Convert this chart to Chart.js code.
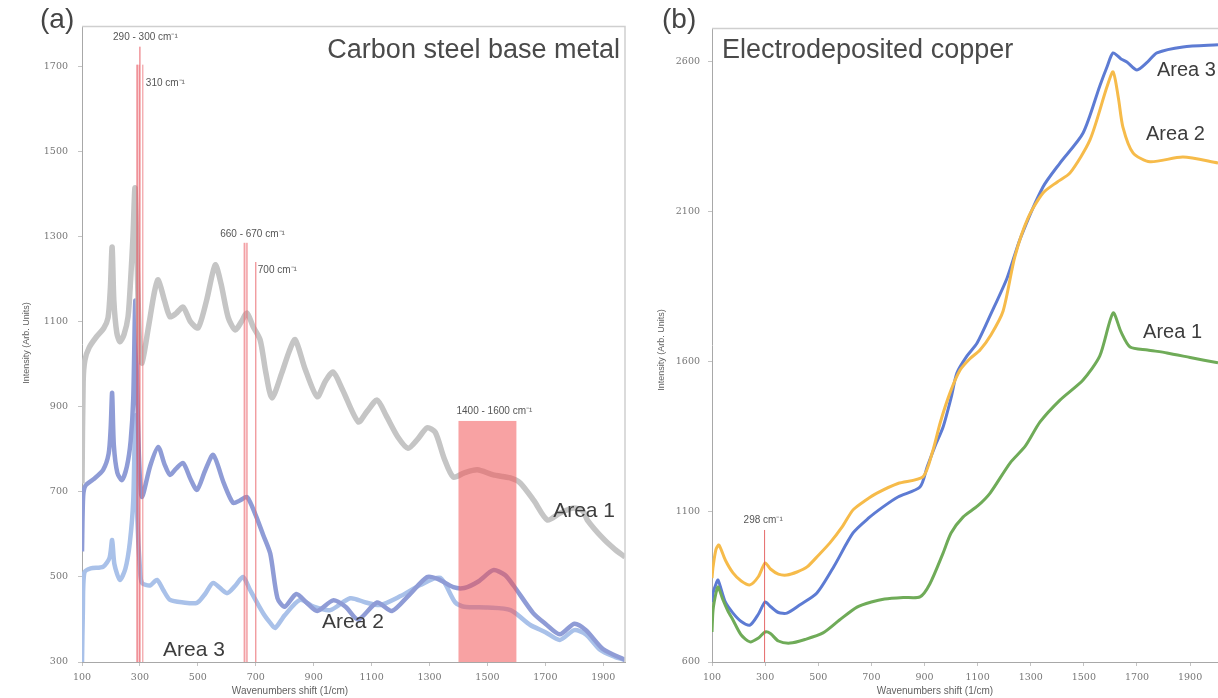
<!DOCTYPE html>
<html>
<head>
<meta charset="utf-8">
<script src="https://cdn.jsdelivr.net/npm/chart.js@4.4.1/dist/chart.umd.min.js"></script>
<style>
  html, body { margin: 0; padding: 0; background: #fff; overflow: hidden; width: 1218px; height: 698px; }
  #wrapA { position: absolute; left: 0; top: 0; width: 640px; height: 698px; }
  #wrapB { position: absolute; left: 640px; top: 0; width: 578px; height: 698px; }
</style>
</head>
<body>
<div id="wrapA"><canvas id="chartA" width="640" height="698"></canvas></div>
<div id="wrapB"><canvas id="chartB" width="578" height="698"></canvas></div>
<script>
/* ---------- (a) carbon steel base metal ---------- */
const a1Wave = [100,104,110,125,150,175,190,198,204,210,220,231,245,259,268,276,283,290,298,307,330,350,363,385,404,425,449,475,501,530,560,580,605,629,650,670,690,715,735,756,790,815,836,870,912,940,967,1000,1054,1085,1119,1150,1190,1226,1260,1292,1320,1350,1382,1420,1465,1520,1579,1613,1660,1707,1750,1797,1830,1845,1900,1940,1975];
const a1Int  = [720,960,1010,1040,1065,1085,1110,1180,1276,1150,1075,1053,1070,1112,1200,1300,1415,1250,1060,1003,1090,1170,1199,1150,1112,1120,1135,1100,1086,1150,1234,1190,1110,1081,1100,1121,1090,1058,980,921,980,1030,1058,990,924,960,982,940,865,890,916,880,830,803,825,851,840,780,735,745,752,740,733,721,680,634,650,662,655,634,590,565,547];

const a2Wave = [100,104,112,140,173,192,199,204,210,222,238,255,268,277,284,290,298,307,335,363,385,404,425,449,475,497,525,553,590,622,645,670,700,725,750,775,800,840,875,912,967,1010,1054,1119,1170,1226,1292,1330,1382,1420,1470,1520,1560,1590,1658,1700,1750,1800,1840,1900,1975];
const a2Int  = [560,690,715,730,752,790,850,933,810,745,728,760,820,920,1150,950,760,688,760,806,765,740,755,768,730,705,750,787,720,674,680,688,645,600,555,450,430,460,440,420,445,430,400,440,420,455,500,495,476,474,490,516,505,480,415,390,365,390,375,330,305];

const a3Wave = [100,103,108,130,173,195,204,212,231,250,265,277,284,291,300,307,335,359,380,404,450,497,525,553,600,630,656,680,705,730,750,767,800,853,900,957,1026,1080,1130,1200,1268,1337,1389,1420,1500,1580,1648,1700,1750,1800,1840,1890,1940,1975];
const a3Int  = [300,420,510,520,524,545,587,530,493,520,580,680,880,640,520,486,480,493,470,446,440,439,460,486,462,480,500,470,439,410,392,380,410,446,430,422,450,440,434,455,481,498,440,430,428,422,387,370,352,375,365,328,312,305];

const xTicksA = [100,300,500,700,900,1100,1300,1500,1700,1900];
const yTicksA = [300,500,700,900,1100,1300,1500,1700];

// marked bands (cm-1) and how high their marker reaches (intensity)
const bandA1 = [290, 300], bandA1Top = 1705;
const lineA310 = 310;
const bandA2 = [660, 670], bandA2Top = 1286;
const lineA700 = 700, lineA700Top = 1241;
const boxA = [1400, 1600], boxATop = 867;

/* ---------- (b) electrodeposited copper ---------- */
const b1Wave = [100,104,115,123,140,160,179,210,243,275,300,320,350,394,450,518,580,646,700,750,820,883,920,970,1000,1045,1100,1147,1222,1280,1335,1410,1497,1560,1610,1640,1674,1740,1813,1900,2005];
const b1Int  = [700,773,830,850,810,770,740,690,667,680,700,695,670,663,675,697,740,783,800,810,815,817,860,963,1030,1083,1120,1163,1263,1320,1400,1473,1540,1620,1763,1700,1650,1640,1630,1615,1597];

const b2Wave = [100,104,115,126,150,179,210,243,275,300,320,350,382,420,458,500,544,590,631,680,721,800,894,930,960,996,1034,1070,1109,1150,1196,1240,1290,1346,1400,1448,1523,1587,1610,1630,1647,1685,1749,1873,2005];
const b2Int  = [880,917,975,990,940,897,870,857,885,930,910,893,890,900,917,955,997,1050,1107,1140,1163,1195,1217,1300,1400,1497,1573,1610,1640,1690,1770,1950,2080,2163,2200,2230,2340,2517,2567,2480,2383,2297,2267,2283,2263];

const b3Wave = [100,104,115,123,150,179,210,243,275,300,320,350,382,430,495,560,631,690,744,800,883,910,940,970,1000,1022,1060,1098,1150,1211,1260,1346,1410,1497,1560,1587,1610,1640,1662,1700,1740,1775,1873,2005];
const b3Int  = [800,830,860,873,800,763,735,723,760,800,785,765,763,790,830,920,1030,1080,1117,1150,1183,1250,1320,1383,1480,1563,1620,1663,1760,1880,2010,2183,2263,2363,2520,2583,2630,2610,2600,2573,2600,2630,2650,2657];

const xTicksB = [100,300,500,700,900,1100,1300,1500,1700,1900];
const yTicksB = [600,1100,1600,2100,2600];
const lineB298 = 298, lineB298Top = 1040;

/* ---------- helpers ---------- */
const pts = (xs, ys) => xs.map((x, i) => ({ x, y: ys[i] }));
const TICK_FONT = { family: 'DejaVu Serif', size: 9.5 };
const LABEL_FONT = '"Liberation Sans", Arial, sans-serif';

function scaleOpts(min, max, ticks, fit, pad) {
  return {
    type: 'linear', min, max,
    afterBuildTicks: (s) => { s.ticks = ticks.map(v => ({ value: v })); },
    afterFit: fit,
    grid: { drawOnChartArea: false, drawTicks: true, tickLength: 4, color: '#c4c4c4' },
    border: { display: true, color: '#a8a8a8', width: 1 },
    ticks: { font: TICK_FONT, color: '#777', padding: pad, maxRotation: 0, autoSkip: false, callback: v => String(v) }
  };
}

function text(ctx, str, x, y, size, align, color) {
  ctx.font = size + 'px ' + LABEL_FONT;
  ctx.fillStyle = color || '#3d3d3d';
  ctx.textAlign = align || 'left';
  ctx.textBaseline = 'middle';
  ctx.fillText(str, x, y);
}

// plot frame, axis titles and panel captions
function framePlugin(cfg) {
  return {
    id: 'frame',
    afterDraw(chart) {
      const { ctx, chartArea: ca } = chart;
      ctx.save();
      ctx.strokeStyle = '#cfcfcf';
      ctx.lineWidth = 1.5;
      ctx.beginPath();
      ctx.moveTo(ca.left, ca.top + 0.5);
      ctx.lineTo(ca.right, ca.top + 0.5);
      if (cfg.rightEdge) ctx.lineTo(ca.right, ca.bottom);
      ctx.stroke();
      text(ctx, 'Wavenumbers shift (1/cm)', cfg.xTitleX, 691, 10, 'center', '#626262');
      ctx.translate(cfg.yTitleX, cfg.yTitleY);
      ctx.rotate(-Math.PI / 2);
      text(ctx, 'Intensity (Arb. Units)', 0, 0, 9, 'center', '#626262');
      ctx.restore();
      ctx.save();
      text(ctx, cfg.tag, cfg.tagX, 20, 28, 'left', '#454545');
      text(ctx, cfg.title, cfg.titleX, 51, 27, cfg.titleAlign, '#4a4a4a');
      ctx.restore();
    }
  };
}

function vline(ctx, x, yTop, yBottom, color, w) {
  ctx.strokeStyle = color;
  ctx.lineWidth = w;
  ctx.beginPath();
  ctx.moveTo(x, yTop);
  ctx.lineTo(x, yBottom);
  ctx.stroke();
}

const marksA = {
  id: 'marksA',
  afterDatasetsDraw(chart) {
    const { ctx, chartArea: ca, scales: { x, y } } = chart;
    ctx.save();
    // 290 - 300 band + 310 line
    const b1l = x.getPixelForValue(bandA1[0]), b1r = x.getPixelForValue(bandA1[1]);
    ctx.fillStyle = 'rgba(240, 110, 120, 0.35)';
    ctx.fillRect(b1l, y.getPixelForValue(bandA1Top), b1r - b1l, ca.bottom - y.getPixelForValue(bandA1Top));
    vline(ctx, b1l, y.getPixelForValue(bandA1Top), ca.bottom, 'rgba(228, 70, 80, 0.85)', 1);
    vline(ctx, b1r, y.getPixelForValue(bandA1Top) - 18, ca.bottom, 'rgba(228, 70, 80, 0.85)', 1);
    const l310 = x.getPixelForValue(lineA310);
    vline(ctx, l310, y.getPixelForValue(bandA1Top), ca.bottom, 'rgba(235, 110, 115, 0.8)', 1);
    text(ctx, '290 - 300 cm\u207B\u00B9', b1l - 24, y.getPixelForValue(bandA1Top) - 27, 10, 'left', '#555');
    text(ctx, '310 cm\u207B\u00B9', l310 + 3, y.getPixelForValue(bandA1Top) + 19, 10, 'left', '#555');

    // 660 - 670 band + 700 line
    const b2l = x.getPixelForValue(bandA2[0]), b2r = x.getPixelForValue(bandA2[1]);
    ctx.fillStyle = 'rgba(240, 110, 120, 0.3)';
    ctx.fillRect(b2l, y.getPixelForValue(bandA2Top), b2r - b2l, ca.bottom - y.getPixelForValue(bandA2Top));
    vline(ctx, b2l, y.getPixelForValue(bandA2Top), ca.bottom, 'rgba(235, 110, 115, 0.8)', 1);
    vline(ctx, b2r, y.getPixelForValue(bandA2Top), ca.bottom, 'rgba(235, 110, 115, 0.8)', 1);
    const l700 = x.getPixelForValue(lineA700);
    vline(ctx, l700, y.getPixelForValue(lineA700Top), ca.bottom, 'rgba(235, 110, 115, 0.8)', 1.2);
    text(ctx, '660 - 670 cm\u207B\u00B9', b2l - 24, y.getPixelForValue(bandA2Top) - 9, 10, 'left', '#555');
    text(ctx, '700 cm\u207B\u00B9', l700 + 2, y.getPixelForValue(lineA700Top) + 8, 10, 'left', '#555');

    // 1400 - 1600 window, drawn translucent over the curves
    const bxl = x.getPixelForValue(boxA[0]), bxr = x.getPixelForValue(boxA[1]);
    const bxt = y.getPixelForValue(boxATop);
    ctx.fillStyle = 'rgba(243, 85, 88, 0.55)';
    ctx.fillRect(bxl, bxt, bxr - bxl, ca.bottom - bxt);
    text(ctx, '1400 - 1600 cm\u207B\u00B9', bxl - 2, bxt - 10, 10, 'left', '#555');

    // series labels
    text(ctx, 'Area 1', x.getPixelForValue(1727), y.getPixelForValue(655), 21);
    text(ctx, 'Area 2', x.getPixelForValue(929), y.getPixelForValue(394), 21);
    text(ctx, 'Area 3', x.getPixelForValue(380), y.getPixelForValue(328), 21);
    ctx.restore();
  }
};

const marksB = {
  id: 'marksB',
  afterDatasetsDraw(chart) {
    const { ctx, chartArea: ca, scales: { x, y } } = chart;
    ctx.save();
    const lx = x.getPixelForValue(lineB298);
    vline(ctx, lx, y.getPixelForValue(lineB298Top), ca.bottom, 'rgba(225, 80, 80, 0.85)', 1);
    text(ctx, '298 cm\u207B\u00B9', lx - 21, y.getPixelForValue(lineB298Top) - 10, 10, 'left', '#555');
    text(ctx, 'Area 3', x.getPixelForValue(1775), y.getPixelForValue(2573), 20);
    text(ctx, 'Area 2', x.getPixelForValue(1734), y.getPixelForValue(2357), 20);
    text(ctx, 'Area 1', x.getPixelForValue(1723), y.getPixelForValue(1697), 20);
    ctx.restore();
  }
};

function series(xs, ys, color, width) {
  return { data: pts(xs, ys), borderColor: color, borderWidth: width, pointRadius: 0, tension: 0.25, fill: false };
}

function buildChart(id, cfg) {
  return new Chart(document.getElementById(id), {
    type: 'line',
    data: { datasets: cfg.datasets },
    options: {
      responsive: false,
      animation: false,
      layout: { padding: { top: cfg.top, right: cfg.right, left: 0, bottom: 0 } },
      plugins: { legend: { display: false }, tooltip: { enabled: false } },
      scales: {
        x: scaleOpts(cfg.xMin, cfg.xMax, cfg.xTicks, s => { s.height = 36; }, 6),
        y: scaleOpts(cfg.yMin, cfg.yMax, cfg.yTicks, s => { s.width = cfg.yWidth; }, cfg.yPad)
      }
    },
    plugins: [cfg.marks, framePlugin(cfg.frame)]
  });
}

buildChart('chartA', {
  datasets: [
    series(a1Wave, a1Int, '#c5c5c5', 5.5),
    series(a2Wave, a2Int, '#8f9cd6', 4.5),
    series(a3Wave, a3Int, '#a9c1e9', 4.5)
  ],
  top: 26, right: 15, yWidth: 82, yPad: 10,
  xMin: 100, xMax: 1975, xTicks: xTicksA,
  yMin: 300, yMax: 1796, yTicks: yTicksA,
  marks: marksA,
  frame: { rightEdge: true, xTitleX: 290, yTitleX: 27, yTitleY: 343, tag: '(a)', tagX: 40, title: 'Carbon steel base metal', titleX: 620, titleAlign: 'right' }
});

buildChart('chartB', {
  datasets: [
    series(b1Wave, b1Int, '#6fab58', 3),
    series(b2Wave, b2Int, '#f6bb4a', 3),
    series(b3Wave, b3Int, '#5d7bd3', 3)
  ],
  top: 28, right: 0, yWidth: 72, yPad: 8,
  xMin: 100, xMax: 2005, xTicks: xTicksB,
  yMin: 600, yMax: 2713, yTicks: yTicksB,
  marks: marksB,
  frame: { rightEdge: false, xTitleX: 295, yTitleX: 22, yTitleY: 350, tag: '(b)', tagX: 22, title: 'Electrodeposited copper', titleX: 82, titleAlign: 'left' }
});
</script>
</body>
</html>
